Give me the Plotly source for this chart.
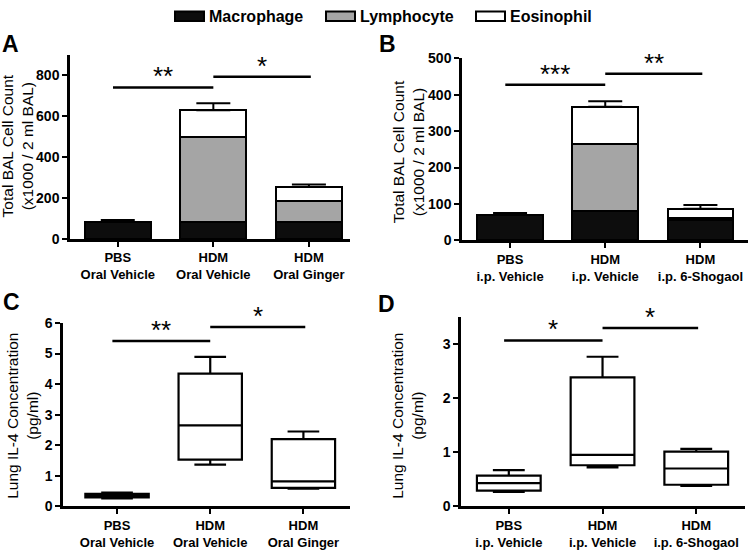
import plotly.graph_objects as go

# BAL cell counts (x1000 / 2 ml BAL), stacked by cell type
groups_oral = ["PBS<br>Oral Vehicle", "HDM<br>Oral Vehicle", "HDM<br>Oral Ginger"]
groups_ip = ["PBS<br>i.p. Vehicle", "HDM<br>i.p. Vehicle", "HDM<br>i.p. 6-Shogaol"]
cell_types = ["Macrophage", "Lymphocyte", "Eosinophil"]
cell_colors = ["#0d0d0d", "#a5a5a5", "#ffffff"]

a_macro = [85, 85, 85]
a_lymph = [0, 413, 100]
a_eos = [0, 130, 69]
a_err = [8, 35, 12]

b_macro = [70, 80, 57]
b_lymph = [0, 185, 4]
b_eos = [0, 102, 26]
b_err = [5, 15, 10]

# lung IL-4 (pg/ml) box summaries
c_min = [0.26, 1.37, 0.58]
c_q1 = [0.30, 1.53, 0.61]
c_med = [0.35, 2.65, 0.82]
c_q3 = [0.41, 4.34, 2.20]
c_max = [0.45, 4.89, 2.45]

d_min = [0.27, 0.72, 0.38]
d_q1 = [0.29, 0.76, 0.40]
d_med = [0.43, 0.95, 0.70]
d_q3 = [0.57, 2.38, 1.01]
d_max = [0.67, 2.76, 1.06]

# significance brackets: label, height
a_sig = ["**", "*"]
a_sig_y = [740, 792]
b_sig = ["***", "**"]
b_sig_y = [427, 457]
c_sig = ["**", "*"]
c_sig_y = [5.41, 5.87]
d_sig = ["*", "*"]
d_sig_y = [3.06, 3.29]
sig_pairs = [(-0.05, 1.0), (1.0, 2.02)]

FONT = "Liberation Sans, Arial, sans-serif"
W, H = 750, 553
pos = [0, 1, 2]

fig = go.Figure()


def px_x(a, b):
    return [a / W, b / W]


def px_y(top, bottom):
    return [1 - bottom / H, 1 - top / H]


panels = {
    # name: (x domain px, y domain px, x range, y range, dtick)
    "1": (px_x(70, 350), px_y(48, 238), [-0.5, 2.43], [0, 900], 200),
    "2": (px_x(462, 748), px_y(51.7, 239.3), [-0.505, 2.5], [0, 500], 100),
    "3": (px_x(63, 350), px_y(324.3, 513.3), [-0.58, 2.5], [0, 6], 1),
    "4": (px_x(461, 745), px_y(317.8, 513.3), [-0.51, 2.52], [0, 3.5], 1),
}


def stacked(ax, macro, lymph, eos, err):
    for name, vals, col in zip(cell_types, [macro, lymph, eos], cell_colors):
        fig.add_bar(x=pos, y=vals, name=name, marker=dict(color=col, line=dict(color="black", width=2)),
                    width=0.69, xaxis="x" + ax, yaxis="y" + ax, showlegend=False)
    tot = [m + l + e for m, l, e in zip(macro, lymph, eos)]
    fig.add_scatter(x=pos, y=tot, mode="markers", marker=dict(size=1, color="rgba(0,0,0,0)"),
                    error_y=dict(type="data", symmetric=False, array=err, arrayminus=[0, 0, 0],
                                 color="black", thickness=2, width=17),
                    xaxis="x" + ax, yaxis="y" + ax, showlegend=False)


def boxes(ax, lo, q1, med, q3, hi):
    fig.add_box(x=pos, lowerfence=lo, q1=q1, median=med, q3=q3, upperfence=hi,
                fillcolor="white", line=dict(color="black", width=2.2), width=0.68,
                boxpoints=False, xaxis="x" + ax, yaxis="y" + ax, showlegend=False)


def sig(ax, labels, heights):
    for lab, h, (x0, x1) in zip(labels, heights, sig_pairs):
        fig.add_shape(type="line", x0=x0, x1=x1, y0=h, y1=h, xref="x" + ax, yref="y" + ax,
                      line=dict(color="black", width=2.5))
        fig.add_annotation(x=(x0 + x1) / 2, y=h, xref="x" + ax, yref="y" + ax, text=lab,
                           showarrow=False, yanchor="bottom", yshift=-6,
                           font=dict(family=FONT, size=26, color="black"))


stacked("1", a_macro, a_lymph, a_eos, a_err)
stacked("2", b_macro, b_lymph, b_eos, b_err)
boxes("3", c_min, c_q1, c_med, c_q3, c_max)
boxes("4", d_min, d_q1, d_med, d_q3, d_max)
sig("1", a_sig, a_sig_y)
sig("2", b_sig, b_sig_y)
sig("3", c_sig, c_sig_y)
sig("4", d_sig, d_sig_y)

layout = {}
for k, (xd, yd, xr, yr, dt) in panels.items():
    labels = groups_oral if k in ("1", "3") else groups_ip
    layout["xaxis" + k] = dict(domain=xd, range=xr, anchor="y" + k, tickvals=pos,
                               ticktext=["<b>" + t.replace("<br>", "</b><br><b>") + "</b>" for t in labels],
                               showline=True, linecolor="black", linewidth=2.5, ticks="outside",
                               ticklen=5, tickwidth=2, tickcolor="black", showgrid=False, zeroline=False,
                               tickfont=dict(family=FONT, size=13, color="black"), fixedrange=True)
    layout["yaxis" + k] = dict(domain=yd, range=yr, anchor="x" + k, dtick=dt, tick0=0,
                               showline=True, linecolor="black", linewidth=2.5, ticks="outside",
                               ticklen=5, tickwidth=2, tickcolor="black", showgrid=False, zeroline=False,
                               tickfont=dict(family=FONT, size=14, color="black", weight="bold"))
fig.update_layout(**layout)

# y titles and panel letters
ytitles = [
    ("Total BAL Cell Count<br>(x1000 / 2 ml BAL)", 17.5, 142),
    ("Total BAL Cell Count<br>(x1000 / 2 ml BAL)", 408.5, 148),
    ("Lung IL-4 Concentration<br>(pg/ml)", 23, 420),
    ("Lung IL-4 Concentration<br>(pg/ml)", 408, 420),
]
for txt, x, y in ytitles:
    fig.add_annotation(text=txt, x=x / W, y=1 - y / H, xref="paper", yref="paper", textangle=-90,
                       showarrow=False, xanchor="center", yanchor="middle",
                       font=dict(family=FONT, size=15.5, color="black"))

for lab, x, y in [("A", 10, 37), ("B", 387, 37), ("C", 11, 303), ("D", 386, 305)]:
    fig.add_annotation(text="<b>" + lab + "</b>", x=x / W, y=1 - y / H, xref="paper", yref="paper",
                       showarrow=False, xanchor="center", yanchor="middle",
                       font=dict(family=FONT, size=23, color="black"))

# legend across the top
for name, col, x0 in zip(cell_types, cell_colors, [175, 326, 476]):
    fig.add_shape(type="rect", x0=x0 / W, x1=(x0 + 29) / W, y0=1 - 13.5 / H, y1=1 - 3.5 / H,
                  xref="paper", yref="paper", fillcolor=col, line=dict(color="black", width=2))
    fig.add_annotation(text="<b>" + name + "</b>", x=(x0 + 32) / W, y=1 - 8.5 / H, xref="paper",
                       yref="paper", showarrow=False, xanchor="left", yanchor="middle",
                       font=dict(family=FONT, size=16, color="black"))

fig.update_layout(width=W, height=H, autosize=False, barmode="stack",
                  margin=dict(l=0, r=0, t=0, b=0), plot_bgcolor="white", paper_bgcolor="white",
                  showlegend=False)

# pin the figure to the window's corner, nothing else on the page
page_css = ("for (const el of [document.documentElement, document.body]) {"
            "el.style.margin='0'; el.style.padding='0'; el.style.overflow='hidden';}")
fig.write_html("out.html", config={"displayModeBar": False}, post_script=page_css)
